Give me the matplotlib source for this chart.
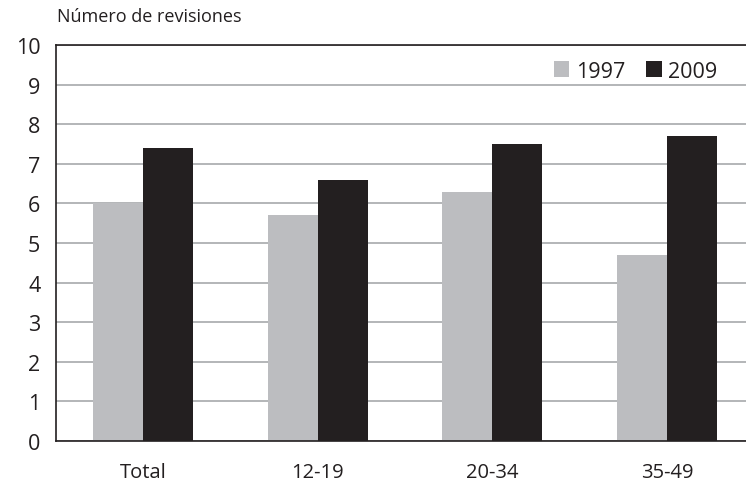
import numpy as np
import matplotlib.pyplot as plt

categorias = ["Total", "12-19", "20-34", "35-49"]
anios = ["1997", "2009"]
valores_1997 = [6.0, 5.7, 6.3, 4.7]
valores_2009 = [7.4, 6.6, 7.5, 7.7]

plt.rcParams['font.family'] = ['Open Sans', 'DejaVu Sans']

fig = plt.figure(figsize=(7.46, 4.85), dpi=100)
ax = fig.add_axes([55.6 / 746, 1 - 442 / 485, 698.8 / 746, 396 / 485])

x = np.arange(len(categorias))
w = 0.286
ax.bar(x - w / 2, valores_1997, w, color="#bcbdc0", label=anios[0], zorder=2)
ax.bar(x + w / 2, valores_2009, w, color="#231f20", label=anios[1], zorder=2)

ax.set_xlim(-0.5, 3.5)
ax.set_ylim(0, 10)
ax.set_yticks(range(0, 11))
ax.set_xticks(x)
ax.set_xticklabels(categorias, fontsize=14.5)
ax.tick_params(axis="y", length=0, labelsize=15.5, pad=11, colors="#231f20")
ax.tick_params(axis="x", length=0, pad=15, colors="#231f20")
ax.yaxis.grid(True, color="#a7a9ac", linewidth=1.2, zorder=0)
ax.spines["right"].set_visible(False)
for s in ["left", "bottom", "top"]:
    ax.spines[s].set_color("#231f20")
    ax.spines[s].set_linewidth(1.2)

ax.legend(loc="center right", bbox_to_anchor=(728 / 746, 1 - 72 / 485), bbox_transform=fig.transFigure,
          frameon=False, ncol=2, fontsize=15.5, handlelength=0.7, handleheight=0.7,
          handletextpad=0.3, columnspacing=1.0, labelcolor="#231f20", borderpad=0)

fig.text(57 / 746, 1 - 17 / 485, "Número de revisiones", fontsize=13, ha="left", va="center",
         color="#231f20")

fig.savefig("out.png", dpi=100)
